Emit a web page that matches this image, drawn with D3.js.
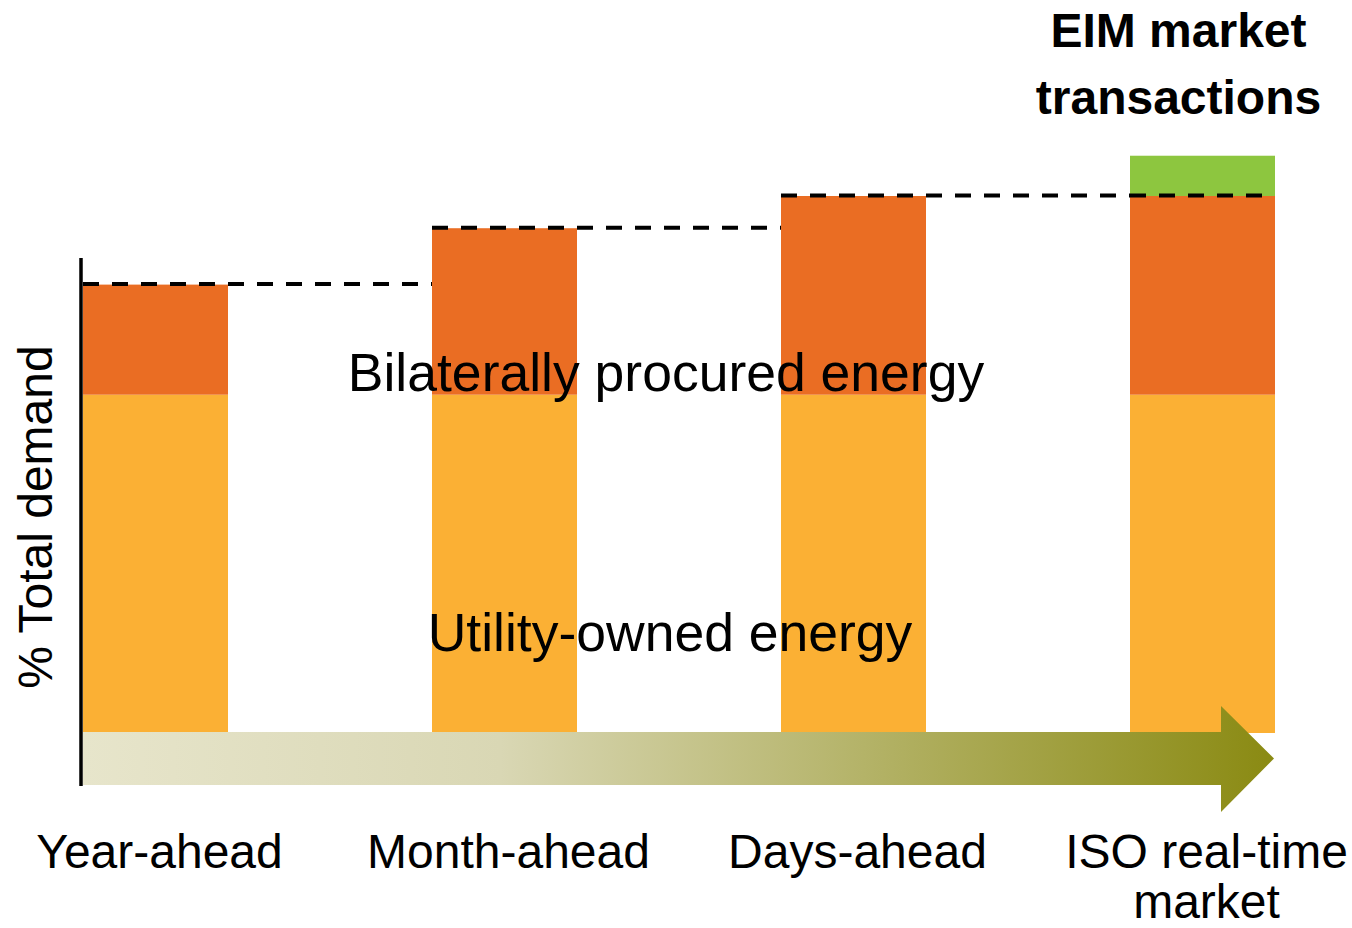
<!DOCTYPE html>
<html>
  <head>
    <meta charset="utf-8">
    <script src="https://d3js.org/d3.v7.min.js"></script>
    <title>Energy procurement by time horizon</title>
    <style>
      body {
        margin: 0;
        background: #fff;
        font-family: "Liberation Sans", Arial, sans-serif;
      }
      .stage-label {
        fill: #000;
        font-size: 48px;
      }
      .band-label {
        fill: #000;
        font-size: 53.5px;
      }
      .axis-label {
        fill: #000;
        font-size: 48px;
      }
      .eim-label {
        fill: #000;
        font-size: 48px;
        font-weight: bold;
      }
    </style>
  </head>
  <body>
    <svg id="chart" width="1352" height="928"></svg>
    <script>
      // stages along the time axis (\n = line break in the label)
      const stages = ['Year-ahead', 'Month-ahead', 'Days-ahead', 'ISO real-time\nmarket'];
      // share of total demand, stacked
      const utilityOwned = [63, 63, 63, 63];
      const bilateral = [20.5, 31, 37, 37];
      const eimTransactions = [0, 0, 0, 7.5];

      const yLabel = '% Total demand';
      const utilityLabel = 'Utility-owned energy';
      const bilateralLabel = 'Bilaterally procured energy';
      const eimLabel = ['EIM market', 'transactions'];

      const colors = { utility: '#fbb034', bilateral: '#ea6d23', eim: '#8dc63f' };

      const svg = d3.select('#chart');

      const barWidth = 145;
      const xScale = d3.scalePoint()
        .domain(stages)
        .range([83, 1130]);

      const yScale = d3.scaleLinear()
        .domain([0, 100])
        .range([733, 196]);

      const rows = stages.map((s, i) => ({
        stage: s,
        utility: utilityOwned[i],
        bilateral: bilateral[i],
        eim: eimTransactions[i]
      }));

      const stack = d3.stack().keys(['utility', 'bilateral', 'eim'])(rows);

      // gradient for the time arrow
      const defs = svg.append('defs');
      const grad = defs.append('linearGradient')
        .attr('id', 'arrowGrad')
        .attr('gradientUnits', 'userSpaceOnUse')
        .attr('x1', xScale(stages[0])).attr('x2', xScale(stages[stages.length - 1]) + barWidth)
        .attr('y1', 0).attr('y2', 0);
      grad.append('stop').attr('offset', '0%').attr('stop-color', '#e7e5cb');
      grad.append('stop').attr('offset', '35%').attr('stop-color', '#d9d7b4');
      grad.append('stop').attr('offset', '100%').attr('stop-color', '#8a8a12');

      // stacked bars
      svg.append('g')
        .selectAll('g')
        .data(stack)
        .join('g')
          .attr('fill', d => colors[d.key])
        .selectAll('rect')
        .data(d => d)
        .join('rect')
          .attr('x', d => xScale(d.data.stage))
          .attr('y', d => yScale(d[1]))
          .attr('width', barWidth)
          .attr('height', d => yScale(d[0]) - yScale(d[1]));

      // time arrow along the bottom
      const x0 = xScale(stages[0]);
      const xEnd = xScale(stages[stages.length - 1]) + barWidth - 1;
      const bodyTop = yScale(0) - 1, bodyBot = yScale(0) + 52;
      const headX = xEnd - 53, headTop = bodyTop - 26, headBot = bodyBot + 27;
      const midY = (bodyTop + bodyBot) / 2;
      svg.append('path')
        .attr('d', d3.line()([
          [x0, bodyTop], [headX, bodyTop], [headX, headTop], [xEnd, midY],
          [headX, headBot], [headX, bodyBot], [x0, bodyBot]
        ]) + 'Z')
        .attr('fill', 'url(#arrowGrad)');

      // dashed lines carrying each stage's total over to the next stage
      const totals = rows.map(r => r.utility + r.bilateral);
      svg.append('g')
        .selectAll('line')
        .data(stages)
        .join('line')
          .attr('x1', d => xScale(d))
          .attr('x2', (d, i) => i < stages.length - 1 ? xScale(stages[i + 1]) : xScale(d) + barWidth)
          .attr('y1', (d, i) => yScale(totals[i]) - 0.5)
          .attr('y2', (d, i) => yScale(totals[i]) - 0.5)
          .attr('stroke', '#000')
          .attr('stroke-width', 4)
          .attr('stroke-dasharray', '16,13');

      // vertical axis line
      svg.append('line')
        .attr('x1', 81).attr('x2', 81)
        .attr('y1', 258).attr('y2', 786)
        .attr('stroke', '#000')
        .attr('stroke-width', 3.5);

      svg.append('text')
        .attr('class', 'axis-label')
        .attr('transform', `translate(52,${517}) rotate(-90)`)
        .attr('text-anchor', 'middle')
        .text(yLabel);

      // stage labels under the arrow
      svg.append('g')
        .selectAll('text')
        .data(stages)
        .join('text')
          .attr('class', 'stage-label')
          .attr('text-anchor', 'middle')
          .attr('x', d => xScale(d) + barWidth / 2 + 4)
          .attr('y', 868)
          .selectAll('tspan')
          .data(d => d.split('\n'))
          .join('tspan')
            .attr('x', function () { return this.parentNode.getAttribute('x'); })
            .attr('dy', (d, i) => i === 0 ? 0 : 50)
            .text(d => d);

      // band labels across the middle of the bars
      const midX = (xScale(stages[1]) + xScale(stages[2]) + barWidth) / 2 - 13;
      svg.append('text')
        .attr('class', 'band-label')
        .attr('text-anchor', 'middle')
        .attr('x', midX)
        .attr('y', 391)
        .text(bilateralLabel);
      svg.append('text')
        .attr('class', 'band-label')
        .attr('text-anchor', 'middle')
        .attr('x', midX + 4)
        .attr('y', 651)
        .text(utilityLabel);

      // EIM label above the last bar
      svg.append('text')
        .attr('class', 'eim-label')
        .attr('text-anchor', 'middle')
        .selectAll('tspan')
        .data(eimLabel)
        .join('tspan')
          .attr('x', xScale(stages[3]) + barWidth / 2 - 24)
          .attr('y', (d, i) => 47 + i * 67)
          .text(d => d);
    </script>
  </body>
</html>
